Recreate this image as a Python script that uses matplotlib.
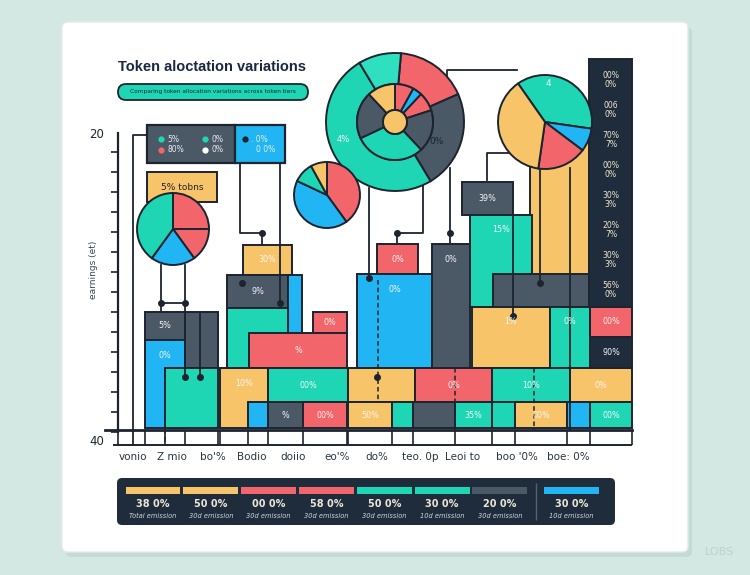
import numpy as np
import matplotlib.pyplot as plt
from matplotlib.patches import FancyBboxPatch, Rectangle

TEAL = '#1fd6b4'
BLUE = '#22b5f3'
RED = '#f2656a'
YELLOW = '#f8c46a'
SLATE = '#4b5866'
NAVY = '#1f2c3c'
INK = '#1c2430'
palette = {'teal': TEAL, 'blue': BLUE, 'red': RED, 'yellow': YELLOW,
           'slate': SLATE, 'navy': NAVY}

# x axis
categories = ['vonio', 'Z mio', "bo'%", 'Bodio', 'doiio', "eo'%", 'do%',
              'teo. 0p', 'Leoi to', "boo '0%", 'boe: 0%']
category_at = [133, 172, 213, 252, 293, 337, 377, 420, 463, 517, 568]

# blocks of the stacked chart (drawn in this order)
block_from = [530, 462, 470, 493, 377, 357, 432, 472, 550, 243, 227, 288, 227, 313,
              249, 145, 185, 145, 165, 220, 268, 348, 415, 492, 570, 248, 268, 303,
              348, 392, 413, 455, 492, 515, 567, 590, 589, 590, 590]
block_to = [590, 513, 532, 590, 418, 432, 470, 550, 590, 292, 288, 302, 288, 347,
            347, 185, 218, 185, 218, 268, 348, 415, 492, 570, 632, 268, 303, 347,
            392, 413, 455, 492, 515, 567, 590, 632, 632, 632, 632]
block_low = [123, 215, 123, 123, 156, 62, 62, 62, 62, 155, 122, 97, 62, 97,
             62, 90, 62, 2, 2, 2, 28, 28, 28, 28, 28, 2, 2, 2,
             2, 2, 2, 2, 2, 2, 2, 2, 123, 93, 62]
block_high = [295, 248, 215, 156, 186, 156, 186, 123, 123, 185, 155, 155, 122, 118,
              97, 118, 118, 90, 62, 62, 62, 62, 62, 62, 62, 28, 28, 28,
              28, 28, 28, 28, 28, 28, 28, 28, 371, 123, 93]
block_series = ['yellow', 'slate', 'teal', 'slate', 'red', 'blue', 'slate', 'yellow',
                'teal', 'yellow', 'slate', 'blue', 'teal', 'red', 'red', 'slate',
                'slate', 'blue', 'teal', 'yellow', 'teal', 'yellow', 'red', 'teal',
                'yellow', 'blue', 'slate', 'red', 'yellow', 'teal', 'slate', 'teal',
                'teal', 'yellow', 'blue', 'teal', 'navy', 'red', 'navy']
block_label = ['', '39%', '15%', '', '0%', '0%', '0%', '1%', '0%', '30%', '9%', '',
               '', '0%', '%', '5%', '', '0%', '', '10%', '00%', '', '0%', '10%',
               '0%', '', '%', '00%', '50%', '', '', '35%', '', '00%', '', '00%',
               '', '00%', '90%']

# right column readout
column_text = ['00%\n0%', '006\n0%', '70%\n7%', '00%\n0%', '30%\n3%', '20%\n7%',
               '30%\n3%', '56%\n0%']

# pies
big_outer = [17, 23, 50, 10]
big_inner = [8, 4, 8, 18, 30, 20, 12]
mid_pie = [40, 42, 10, 8]
left_pie = [25, 15, 20, 40]
right_pie = [37, 8, 17, 38]

# bottom summary strip
strip_colors = ['yellow', 'yellow', 'red', 'red', 'teal', 'teal', 'slate', 'blue']
strip_values = ['38 0%', '50 0%', '00 0%', '58 0%', '50 0%', '30 0%', '20 0%', '30 0%']
strip_notes = ['Total emission', '30d emission', '30d emission', '30d emission',
               '30d emission', '10d emission', '30d emission', '10d emission']

# connector paths (data units)
connectors = [
    [(133, -15), (133, 295), (147, 295)],
    [(240, 267), (240, 197), (262, 197), (262, 185)],
    [(280, 267), (280, 127)],
    [(161, 165), (161, 118)], [(185, 165), (185, 118)], [(161, 127), (185, 127)],
    [(185, 118), (185, 53)], [(200, 118), (200, 53)],
    [(369, 242), (369, 152)],
    [(423, 287), (423, 197), (397, 197), (397, 186)],
    [(450, 262), (450, 186)],
    [(513, 217), (513, 114)],
    [(540, 265), (540, 147)],
    [(487, 250), (487, 277), (527, 277)],
    [(447, 330), (447, 360), (517, 360)],
    [(570, 262), (570, 0)],
]
dots = [(161, 127), (185, 127), (262, 197), (280, 127), (242, 147), (185, 53),
        (200, 53), (397, 197), (450, 197), (369, 152), (513, 114), (540, 147),
        (377, 53), (527, 277)]
dashed = [[(165, 62), (165, -15)], [(378, 150), (378, 30)], [(370, 283), (348, 263)],
          [(455, 62), (455, 0)], [(534, 62), (534, 0)]]

fig = plt.figure(figsize=(7.5, 5.75), dpi=100)
fig.patch.set_facecolor('#d3e8e3')

bg = fig.add_axes([0, 0, 1, 1])
bg.set_xlim(0, 750)
bg.set_ylim(575, 0)
bg.axis('off')
bg.add_patch(FancyBboxPatch((66, 27), 626, 530, boxstyle='round,pad=0,rounding_size=6',
                            fc='#b9d2cc', ec='none', alpha=0.6))
bg.add_patch(FancyBboxPatch((62, 22), 626, 530, boxstyle='round,pad=0,rounding_size=6',
                            fc='white', ec='#e3ebea', lw=1))

bg.text(118, 67, 'Token aloctation variations', fontsize=10.5, fontweight='bold',
        family='Liberation Sans', color='#1b2640', va='center', ha='left')
bg.add_patch(FancyBboxPatch((118, 84), 190, 16, boxstyle='round,pad=0,rounding_size=8',
                            fc=TEAL, ec=INK, lw=1.3))
bg.text(213, 92, 'Comparing token allocation variations across token tiers',
        fontsize=4.2, color=INK, ha='center', va='center')

# top legend box
bg.add_patch(Rectangle((147, 125), 88, 38, fc=SLATE, ec=INK, lw=1.6))
bg.add_patch(Rectangle((235, 125), 50, 38, fc=BLUE, ec=INK, lw=1.6))
for (x, y, c, t) in [(161, 139, TEAL, '5%'), (161, 150, RED, '80%'),
                     (205, 139, TEAL, '0%'), (205, 150, 'white', '0%'),
                     (245, 139, INK, '. 0%'), (250, 150, BLUE, '0 0%')]:
    bg.plot(x, y, 'o', ms=4.5, color=c, mec='none')
    bg.text(x + 6, y, t, fontsize=5.5, color='#e8edf0', va='center')

bg.add_patch(Rectangle((147, 172), 70, 30, fc=YELLOW, ec=INK, lw=1.4))
bg.text(182, 187, '5% tobns', fontsize=6.5, color=INK, ha='center', va='center')

# main chart
ax = fig.add_axes([85 / 750, 1 - 450 / 575, 555 / 750, 410 / 575])
ax.patch.set_alpha(0)

for i in range(len(block_from)):
    w = block_to[i] - block_from[i]
    h = block_high[i] - block_low[i]
    ax.bar(block_from[i], h, width=w, bottom=block_low[i], align='edge',
           color=palette[block_series[i]], edgecolor=INK, linewidth=1.4, zorder=2)
    if block_label[i]:
        ly = block_low[i] + h / 2 if h <= 45 else block_high[i] - 15
        ax.text(block_from[i] + w / 2, ly, block_label[i], fontsize=5.8,
                color='#f4f6f7', ha='center', va='center', zorder=6)

col_y = np.linspace(350, 140, len(column_text))
for y, t in zip(col_y, column_text):
    ax.text(611, y, t, fontsize=5.6, color='#eee4cc', ha='center', va='center',
            linespacing=1.05, zorder=6)

for path in connectors:
    xs, ys = zip(*path)
    ax.plot(xs, ys, color=INK, lw=1.3, zorder=3)
for path in dashed:
    xs, ys = zip(*path)
    ax.plot(xs, ys, color=INK, lw=1.1, ls=(0, (3, 2)), zorder=3)
dx, dy = zip(*dots)
ax.scatter(dx, dy, s=16, color=INK, zorder=4)

wp = dict(edgecolor=INK, linewidth=1.4, zorder=5)
ax.pie(big_outer, colors=[RED, SLATE, TEAL, '#2fe0c0'], center=(395, 308), radius=69,
       startangle=85, counterclock=False, frame=True,
       wedgeprops=dict(width=31, **wp))
ax.pie(big_inner, colors=[RED, BLUE, RED, SLATE, TEAL, SLATE, YELLOW], center=(395, 308),
       radius=38, startangle=90, counterclock=False, frame=True,
       wedgeprops=dict(width=26, **wp))
ax.pie([1], colors=[YELLOW], center=(395, 308), radius=12, frame=True, wedgeprops=wp)
ax.pie(mid_pie, colors=[RED, BLUE, TEAL, YELLOW], center=(327, 235), radius=33,
       startangle=90, counterclock=False, frame=True, wedgeprops=wp)
ax.pie(left_pie, colors=[RED, RED, BLUE, TEAL], center=(173, 201), radius=36,
       startangle=90, counterclock=False, frame=True, wedgeprops=wp)
ax.pie(right_pie, colors=[TEAL, BLUE, RED, YELLOW], center=(545, 308), radius=47,
       startangle=125, counterclock=False, frame=True, wedgeprops=wp)
ax.text(343, 290, '4%', fontsize=6, color='#f4f6f7', ha='center', va='center', zorder=6)
ax.text(437, 288, '0%', fontsize=6.5, color=INK, ha='center', va='center', zorder=6)
ax.text(548, 347, '4', fontsize=6.5, color='#f4f6f7', ha='center', va='center', zorder=6)

ax.set_xlim(85, 640)
ax.set_ylim(-20, 390)
ax.set_aspect('auto')

# axes dressing
for s in ['top', 'right']:
    ax.spines[s].set_visible(False)
ax.spines['left'].set_position(('data', 118))
ax.spines['left'].set_bounds(-2, 297)
ax.spines['left'].set_linewidth(1.6)
ax.spines['left'].set_color(INK)
ax.spines['bottom'].set_position(('data', 0))
ax.spines['bottom'].set_bounds(105, 632)
ax.spines['bottom'].set_linewidth(2)
ax.spines['bottom'].set_color(INK)

ax.set_yticks([-10, 297])
ax.set_yticklabels(['40', '20'])
ax.set_yticks(np.arange(-2, 298, 20), minor=True)
ax.tick_params(axis='y', which='major', length=0, pad=10, labelsize=8.5, labelcolor=INK)
ax.tick_params(axis='y', which='minor', length=5, width=1.2, color=INK, direction='out')
ax.set_ylabel('earnings (et)', fontsize=6.5, color='#3a4552')
ax.yaxis.set_label_coords(13 / 555, 180 / 410)

ax.set_xticks(category_at)
ax.set_xticklabels(categories)
ax.tick_params(axis='x', length=0, pad=16, labelsize=7.5, labelcolor='#2a3441')

ax.hlines(-15, 113, 632, color=INK, lw=1.4, zorder=1)
ground_edges = np.unique([b for b, lo in zip(block_from + block_to, block_low + block_low)
                          if lo <= 2] + [118])
ax.vlines(ground_edges, -15, 0, color=INK, lw=1.2, zorder=1)

# bottom summary strip
strip_x = np.array([0, 1, 2, 3, 4, 5, 6, 7.24])
bg.add_patch(FancyBboxPatch((117, 478), 498, 47, boxstyle='round,pad=0,rounding_size=5',
                            fc=NAVY, ec='none'))
sx = fig.add_axes([117 / 750, 1 - 525 / 575, 498 / 750, 47 / 575])
sx.set_xlim(-0.623, 7.99)
sx.set_ylim(0, 1)
sx.axis('off')
sx.bar(strip_x, 0.15, bottom=0.66, width=0.95,
       color=[palette[c] for c in strip_colors])
for x, v, n in zip(strip_x, strip_values, strip_notes):
    sx.text(x, 0.45, v, fontsize=7, fontweight='bold', color='#ece6d6',
            ha='center', va='center')
    sx.text(x, 0.19, n, fontsize=4.8, style='italic', color='#cfd6dc',
            ha='center', va='center')
sx.vlines(6.63, 0.1, 0.9, color='#56616e', lw=1)

bg.text(719, 552, 'LOBS', fontsize=8, color='#c3cfcc', ha='center', va='center')

fig.savefig('out.png', dpi=100, facecolor=fig.get_facecolor())
